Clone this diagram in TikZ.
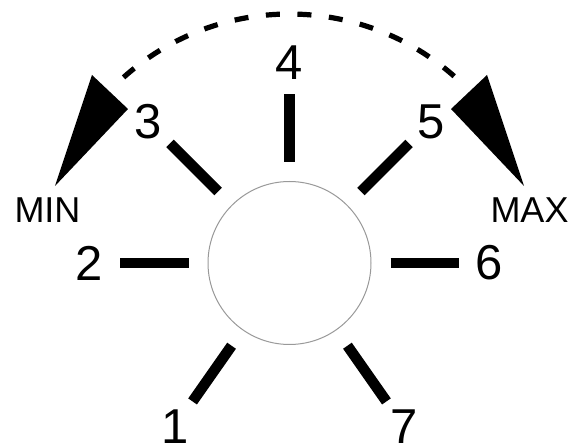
\documentclass[tikz,border=0pt]{standalone}
\usepackage{fontspec}
\setmainfont{Liberation Sans}
\begin{document}
\begin{tikzpicture}[x=0.5pt,y=0.5pt,
  tickbar/.style={line width=5.3pt,line cap=butt},
  numlabel/.style={font=\fontsize{24.5}{24.5}\selectfont,inner sep=0pt},
  endlabel/.style={font=\fontsize{18}{18}\selectfont,inner sep=0pt},
  pointerfill/.style={fill=black,draw=none},
  dasharc/.style={line width=2.6pt,dash pattern=on 7pt off 8.8pt}]
\useasboundingbox (-289.5,-185) rectangle (281.5,263);
\node[circle,draw=black!40,line width=0.5pt,minimum size=81.5pt,inner sep=0pt] (dial) at (0,0) {};
\foreach \a/\n in {235/1,180/2,135/3,90/4,45/5,0/6,-55/7}{
  \draw[tickbar] (\a:101) -- (\a:169);
  \node[numlabel] (lab\n) at (\a:200) {\n};
}
\draw[dasharc] (131.8:249) arc[start angle=131.8,end angle=48.2,radius=249];
\fill[pointerfill] (-197.5,188) -- (-161.5,154) -- (-234.5,77) -- cycle;
\fill[pointerfill] (197.5,188) -- (161.5,154) -- (234.5,77) -- cycle;
\node[endlabel] (min) at (-242,53) {MIN};
\node[endlabel] (max) at (240,53) {MAX};
\end{tikzpicture}
\end{document}
